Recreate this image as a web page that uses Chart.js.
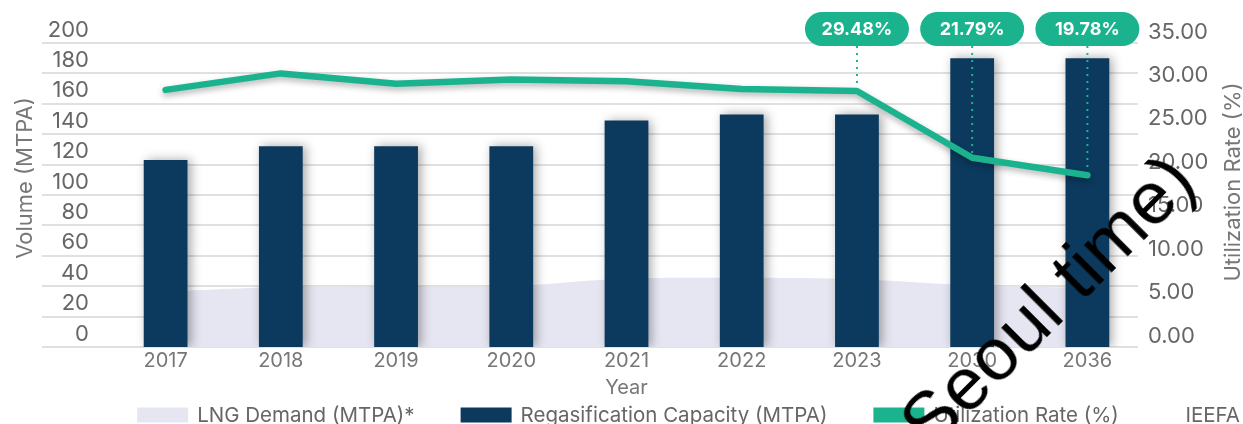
<!DOCTYPE html>
<html>
<head>
<meta charset="utf-8">
<script src="https://cdn.jsdelivr.net/npm/chart.js@4.4.1/dist/chart.umd.min.js"></script>
<style>
  html, body { margin: 0; padding: 0; background: #fff; }
  #wrap { position: relative; width: 1243px; height: 424px; overflow: hidden; }
  #stamp {
    position: absolute; left: 1047px; top: 301px;
    font-family: "Liberation Sans", Arial, sans-serif; font-size: 75px; line-height: 1;
    color: #000; white-space: nowrap;
    transform: translate(-50%, -50%) rotate(-45deg);
  }
</style>
</head>
<body>
<div id="wrap">
  <canvas id="chart" width="1243" height="424"></canvas>
  <div id="stamp">Seoul time)</div>
</div>
<script>
const years = ['2017', '2018', '2019', '2020', '2021', '2022', '2023', '2030', '2036'];
const lngDemand = [36.5, 39.5, 39.5, 40, 45, 45.5, 44.5, 40.5, 39];
const regasCapacity = [123, 132, 132, 132, 149, 153, 153, 190, 190];
const utilizationRate = [29.6, 31.5, 30.3, 30.8, 30.6, 29.7, 29.48, 21.79, 19.78];
const calloutYears = ['2023', '2030', '2036'];

const GREEN = '#1bb38d';
const NAVY = '#0b3a5e';
const LAVENDER = '#e6e6f2';
const FONT = 'Inter, "Noto Sans", sans-serif';

// grid lines run under the left tick labels, so draw them by hand
const gridBehind = {
  id: 'gridBehind',
  beforeDatasetsDraw(chart) {
    const ctx = chart.ctx;
    const y = chart.scales.y;
    const area = chart.chartArea;
    ctx.save();
    ctx.strokeStyle = '#d6d6d6';
    ctx.lineWidth = 1.5;
    y.ticks.forEach(t => {
      const py = Math.round(y.getPixelForValue(t.value));
      ctx.beginPath();
      ctx.moveTo(area.left - 66, py);
      ctx.lineTo(area.right - 7, py);
      ctx.stroke();
    });
    ctx.restore();
  }
};

const shadows = {
  id: 'shadows',
  beforeDatasetDraw(chart, args) {
    const ctx = chart.ctx;
    ctx.save();
    if (args.meta.type === 'bar') {
      ctx.shadowColor = 'rgba(0,0,0,0.35)';
      ctx.shadowBlur = 10;
      ctx.shadowOffsetX = 3;
    } else if (args.meta.label === 'Utilization Rate (%)') {
      ctx.shadowColor = 'rgba(0,0,0,0.3)';
      ctx.shadowBlur = 6;
      ctx.shadowOffsetY = 3;
    }
  },
  afterDatasetDraw(chart) {
    chart.ctx.restore();
  }
};

const callouts = {
  id: 'callouts',
  afterDatasetsDraw(chart) {
    const ctx = chart.ctx;
    const meta = chart.getDatasetMeta(2);
    const w = 104, h = 34, top = 12;
    ctx.save();
    calloutYears.forEach(yr => {
      const i = years.indexOf(yr);
      const pt = meta.data[i];
      ctx.setLineDash([2, 5]);
      ctx.strokeStyle = GREEN;
      ctx.lineWidth = 2;
      ctx.beginPath();
      ctx.moveTo(pt.x, top + h);
      ctx.lineTo(pt.x, pt.y);
      ctx.stroke();
      ctx.setLineDash([]);
      ctx.fillStyle = GREEN;
      ctx.beginPath();
      ctx.roundRect(pt.x - w / 2, top, w, h, h / 2);
      ctx.fill();
      ctx.fillStyle = '#fff';
      ctx.font = 'bold 18px ' + FONT;
      ctx.textAlign = 'center';
      ctx.textBaseline = 'middle';
      ctx.fillText(utilizationRate[i].toFixed(2) + '%', pt.x, top + h / 2 + 1);
    });
    ctx.restore();
  }
};

const extras = {
  id: 'extras',
  afterDraw(chart) {
    const ctx = chart.ctx;
    ctx.save();
    // axis titles
    ctx.fillStyle = '#777';
    ctx.font = '22px ' + FONT;
    ctx.textAlign = 'center';
    ctx.textBaseline = 'middle';
    [['Volume (MTPA)', 25, 178], ['Utilization Rate (%)', 1233, 182]].forEach(([t, x, y]) => {
      ctx.save();
      ctx.translate(x, y);
      ctx.rotate(-Math.PI / 2);
      ctx.fillText(t, 0, 0);
      ctx.restore();
    });
    // legend row
    ctx.font = '20.5px ' + FONT;
    ctx.textAlign = 'left';
    const boxW = 51, boxH = 15, gapText = 9, gapItem = 46, yMid = 415;
    const items = chart.data.datasets.map(ds => ({ text: ds.label, color: ds.legendColor }));
    const widths = items.map(it => boxW + gapText + ctx.measureText(it.text).width);
    const total = widths.reduce((a, b) => a + b, 0) + gapItem * (items.length - 1);
    let x = 628 - total / 2;
    items.forEach((it, k) => {
      ctx.fillStyle = it.color;
      ctx.fillRect(x, yMid - boxH / 2, boxW, boxH);
      ctx.fillStyle = '#666';
      ctx.fillText(it.text, x + boxW + gapText, yMid + 1);
      x += widths[k] + gapItem;
    });
    ctx.textAlign = 'right';
    ctx.fillText('IEEFA', 1240, yMid + 1);
    ctx.restore();
  }
};

new Chart(document.getElementById('chart'), {
  data: {
    labels: years,
    datasets: [
      {
        type: 'line',
        label: 'LNG Demand (MTPA)*',
        data: lngDemand,
        yAxisID: 'y',
        order: 2,
        fill: 'origin',
        backgroundColor: LAVENDER,
        legendColor: LAVENDER,
        borderWidth: 0,
        pointRadius: 0,
        tension: 0.3
      },
      {
        type: 'bar',
        label: 'Regasification Capacity (MTPA)',
        data: regasCapacity,
        yAxisID: 'y',
        order: 1,
        backgroundColor: NAVY,
        legendColor: NAVY,
        categoryPercentage: 1,
        barPercentage: 0.38
      },
      {
        type: 'line',
        label: 'Utilization Rate (%)',
        data: utilizationRate,
        yAxisID: 'y1',
        order: 0,
        borderColor: GREEN,
        legendColor: GREEN,
        borderWidth: 6.5,
        pointRadius: 0,
        tension: 0,
        borderCapStyle: 'round',
        borderJoinStyle: 'round'
      }
    ]
  },
  options: {
    responsive: false,
    animation: false,
    layout: { padding: { top: 43, bottom: 24, left: 0, right: 0 } },
    plugins: {
      legend: { display: false },
      tooltip: { enabled: false }
    },
    scales: {
      x: {
        grid: { display: false, drawTicks: false },
        border: { display: false },
        ticks: { color: '#777', font: { family: FONT, size: 20 }, padding: 2, maxRotation: 0 },
        title: { display: true, text: 'Year', color: '#777', font: { family: FONT, size: 20 }, padding: 0 },
        afterFit(s) { s.height = 53; }
      },
      y: {
        position: 'left',
        min: 0, max: 200,
        grid: { display: false, drawTicks: false },
        border: { display: false },
        ticks: { stepSize: 20, color: '#666', font: { family: FONT, size: 22 }, padding: 19, labelOffset: -13 },
        afterFit(s) { s.width = 108; }
      },
      y1: {
        position: 'right',
        min: 0, max: 35,
        grid: { display: false, drawTicks: false },
        border: { display: false },
        ticks: {
          stepSize: 5, color: '#666', font: { family: FONT, size: 22 }, padding: 3, labelOffset: -11,
          callback: v => v.toFixed(2)
        },
        afterFit(s) { s.width = 98; }
      }
    }
  },
  plugins: [gridBehind, shadows, callouts, extras]
});
</script>
</body>
</html>
